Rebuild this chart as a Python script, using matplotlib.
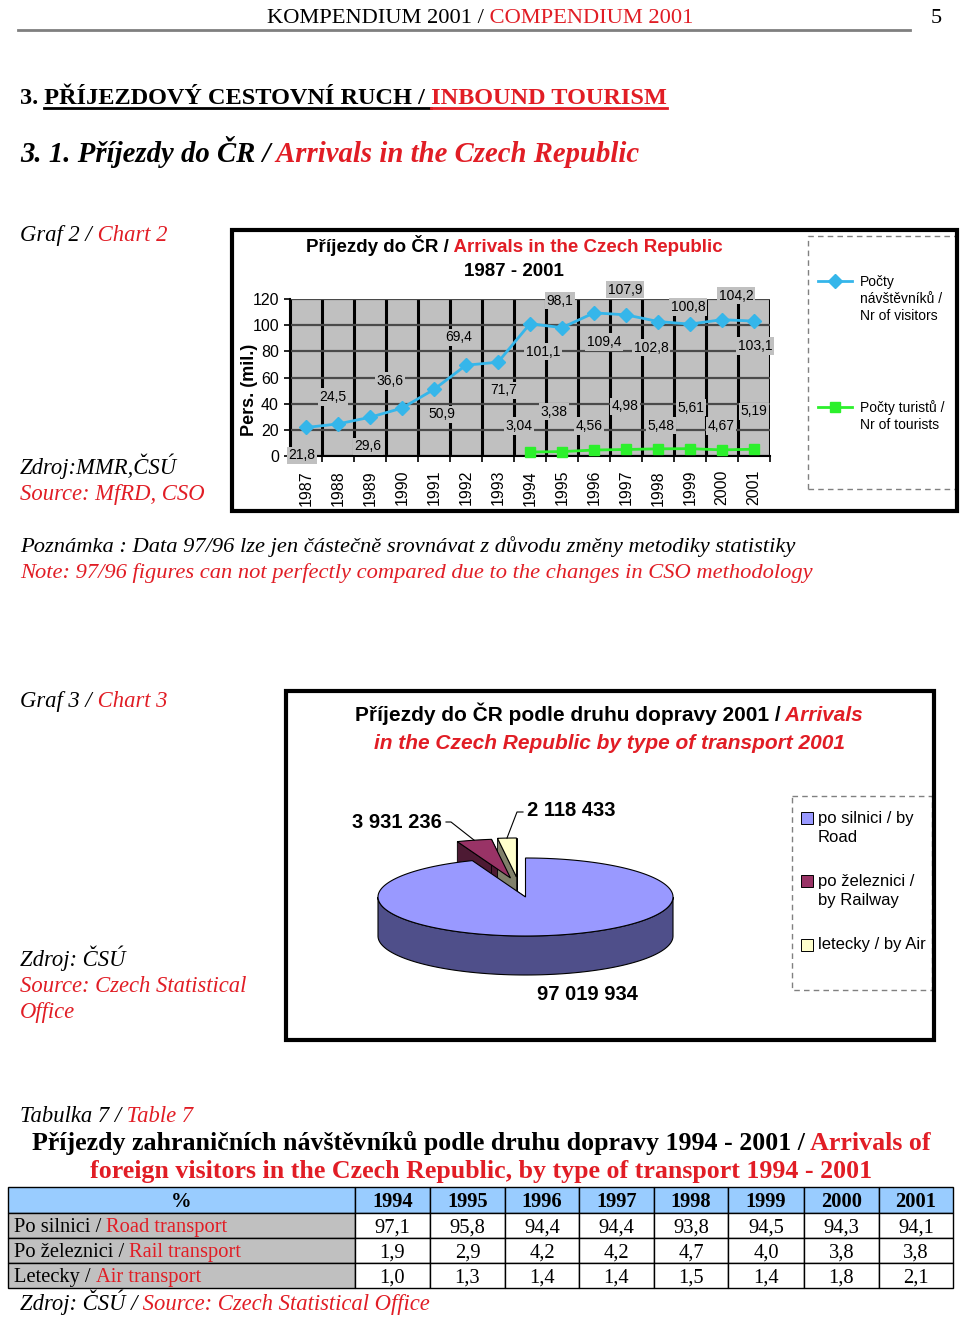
import matplotlib
matplotlib.use("Agg")
import matplotlib.pyplot as plt
from matplotlib.patches import Polygon, Rectangle
import numpy as np

# --- data ---
years = list(range(1987, 2002))
visitors = [21.8, 24.5, 29.6, 36.6, 50.9, 69.4, 71.7, 101.1, 98.1, 109.4, 107.9, 102.8, 100.8, 104.2, 103.1]
tourist_years = list(range(1994, 2002))
tourists = [3.04, 3.38, 4.56, 4.98, 5.48, 5.61, 4.67, 5.19]

transport_names = ["po silnici / by\nRoad", "po železnici /\nby Railway", "letecky / by Air"]
transport_2001 = [97019934, 3931236, 2118433]
transport_labels = ["97 019 934", "3 931 236", "2 118 433"]

table_years = list(range(1994, 2002))
road_share = [97.1, 95.8, 94.4, 94.4, 93.8, 94.5, 94.3, 94.1]
rail_share = [1.9, 2.9, 4.2, 4.2, 4.7, 4.0, 3.8, 3.8]
air_share = [1.0, 1.3, 1.4, 1.4, 1.5, 1.4, 1.8, 2.1]
row_cz = ["Po silnici / ", "Po železnici / ", "Letecky / "]
row_en = ["Road transport", "Rail transport", "Air transport"]

# label offsets (px, right / down) of the data labels, as Excel placed them
vis_off = [(-4, 28), (-5, -27), (-2, 29), (-12, -27), (8, 25), (-7, -28), (6, 28), (13, 28),
           (-2, -27), (10, 29), (-1, -25), (-7, 26), (-2, -17), (14, -24), (1, 25)]
tour_off = [(-11, -26), (-8, -40), (-5, -24), (-1, -43), (3, -23), (1, -41), (-1, -24), (0, -38)]

RED = '#e11d25'
SERIF = 'Liberation Serif'
SANS = 'Liberation Sans'
VIS_COLOR = '#35b6ea'
TOUR_COLOR = '#2cf02c'
SIDE = 16.3  # size of the italic side captions

fig = plt.figure(figsize=(9.6, 13.21), dpi=100)
page = fig.add_axes([0, 0, 1, 1])
page.set_xlim(0, 960)
page.set_ylim(1321, 0)
page.axis('off')


def parts_line(x, y, parts, size, ha='left', family=SERIF, weight='normal', style='normal'):
    # y is the visual middle of the capitals; texts sit on a common baseline
    yb = y + 0.34 * size * 100 / 72
    texts = []
    for p in parts:
        st = p[2] if len(p) > 2 else style
        texts.append(page.text(x, yb, p[0], color=p[1], fontsize=size, family=family,
                               weight=weight, style=st, va='baseline', ha='left'))
    r = fig.canvas.get_renderer()
    w = [t.get_window_extent(r).width for t in texts]
    x0 = x - sum(w) / 2 if ha == 'center' else x
    spans = []
    for t, wi in zip(texts, w):
        t.set_x(x0)
        spans.append((x0, x0 + wi))
        x0 += wi
    return spans


# header
parts_line(480, 15, [("KOMPENDIUM 2001 /", 'black'), (" COMPENDIUM 2001", RED)], 16.2, ha='center')
parts_line(931, 15, [("5", 'black')], 16.2)
page.plot([18, 910], [30, 30], color='#7f7f7f', lw=2)

sp = parts_line(20, 96, [("3.", 'black'), (" PŘÍJEZDOVÝ CESTOVNÍ RUCH /", 'black'), (" INBOUND TOURISM", RED)],
                17.5, weight='bold')
space = 0.25 * 17.5 * 100 / 72
page.plot([sp[1][0] + space, sp[2][0] + space], [108, 108], color='black', lw=2)
page.plot([sp[2][0] + space, sp[2][1]], [108, 108], color=RED, lw=2)

parts_line(20, 152, [("3. 1. Příjezdy do ČR /", 'black'), (" Arrivals in the Czech Republic", RED)],
           20.7, weight='bold', style='italic')

# ---------------- chart 2 ----------------
parts_line(20, 233, [("Graf 2 /", 'black'), (" Chart 2", RED)], SIDE, style='italic')
parts_line(20, 466, [("Zdroj:MMR,ČSÚ", 'black')], SIDE, style='italic')
parts_line(20, 492, [("Source: MfRD, CSO", RED)], SIDE, style='italic')

page.add_patch(Rectangle((232, 230), 725, 281, fill=False, lw=3, ec='black', zorder=6))
parts_line(514, 246, [("Příjezdy do ČR /", 'black'), (" Arrivals in the Czech Republic", RED)],
           13.5, ha='center', family=SANS, weight='bold')
parts_line(514, 270, [("1987 - 2001", 'black')], 13.5, ha='center', family=SANS, weight='bold')
page.text(249, 390, "Pers. (mil.)", fontsize=13, family=SANS, weight='bold', rotation=90,
          ha='center', va='center')

ax = fig.add_axes([290 / 960, 1 - 456 / 1321, 480 / 960, 157 / 1321])
ax.set_facecolor('#c0c0c0')
ax.set_xlim(-0.5, 14.5)
ax.set_ylim(0, 120)
ax.set_yticks(range(0, 121, 20))
ax.set_xticks(range(len(years)))
ax.set_xticklabels([str(y) for y in years], rotation=90, fontsize=11.5, family=SANS, va='top')
ax.set_xticks(np.arange(-0.5, 15, 1), minor=True)
ax.tick_params(axis='x', which='major', length=0, pad=10)
ax.tick_params(axis='x', which='minor', length=4, width=1.2, direction='out')
ax.tick_params(axis='y', length=4, width=1.2, pad=4, labelsize=11.5)
for lbl in ax.get_yticklabels():
    lbl.set_family(SANS)
ax.grid(axis='y', which='major', color='#4a4a4a', lw=1.6)
ax.grid(axis='x', which='minor', color='black', lw=2.2)
ax.set_axisbelow(True)
for s in ['top', 'right']:
    ax.spines[s].set_visible(False)
for s in ['left', 'bottom']:
    ax.spines[s].set_linewidth(1.5)

xv = np.arange(len(years))
ax.plot(xv, visitors, color=VIS_COLOR, lw=2, marker='D', ms=7, zorder=4, clip_on=False)
xt = np.array([years.index(y) for y in tourist_years])
ax.plot(xt, tourists, color=TOUR_COLOR, lw=2, marker='s', ms=7, zorder=4, clip_on=False)

box = dict(boxstyle='square,pad=0.12', fc='#c0c0c0', ec='none')
for x, v, (dx, dy) in zip(xv, visitors, vis_off):
    ax.annotate(f"{v:.1f}".replace('.', ','), (x, v), xytext=(dx * 0.72, -dy * 0.72),
                textcoords='offset points', ha='center', va='center', fontsize=10, family=SANS,
                bbox=box, annotation_clip=False, zorder=5)
for x, v, (dx, dy) in zip(xt, tourists, tour_off):
    ax.annotate(f"{v:.2f}".replace('.', ','), (x, v), xytext=(dx * 0.72, -dy * 0.72),
                textcoords='offset points', ha='center', va='center', fontsize=10, family=SANS,
                bbox=box, annotation_clip=False, zorder=5)

# legend of chart 2
page.plot([808, 808, 955], [489, 236, 236], color='#808080', lw=1, ls=(0, (4, 3)))
page.plot([808, 955], [489, 489], color='#808080', lw=1, ls=(0, (4, 3)))
page.plot([818, 852], [281, 281], color=VIS_COLOR, lw=2)
page.plot([835], [281], marker='D', ms=7, color=VIS_COLOR)
page.text(860, 299, "Počty\nnávštěvníků /\nNr of visitors", fontsize=10, family=SANS,
          va='center', linespacing=1.3)
page.plot([818, 852], [407, 407], color=TOUR_COLOR, lw=2)
page.plot([835], [407], marker='s', ms=7, color=TOUR_COLOR)
page.text(860, 416, "Počty turistů /\nNr of tourists", fontsize=10, family=SANS,
          va='center', linespacing=1.3)

parts_line(20, 544, [("Poznámka : Data 97/96 lze jen částečně srovnávat z důvodu změny metodiky statistiky", 'black')],
           16.2, style='italic')
parts_line(20, 570, [("Note: 97/96 figures can not perfectly compared due to the changes in CSO methodology", RED)],
           16.2, style='italic')

# ---------------- chart 3 ----------------
parts_line(20, 699, [("Graf 3 /", 'black'), (" Chart 3", RED)], SIDE, style='italic')
parts_line(20, 958, [("Zdroj: ČSÚ", 'black')], SIDE, style='italic')
parts_line(20, 984, [("Source: Czech Statistical", RED)], SIDE, style='italic')
parts_line(20, 1010, [("Office", RED)], SIDE, style='italic')

page.add_patch(Rectangle((286, 691), 648, 349, fill=False, lw=3, ec='black', zorder=6))
parts_line(609, 714, [("Příjezdy do ČR podle druhu dopravy 2001 /", 'black', 'normal'), (" Arrivals", RED, 'italic')],
           15, ha='center', family=SANS, weight='bold')
parts_line(610, 742, [("in the Czech Republic by type of transport 2001", RED, 'italic')],
           15, ha='center', family=SANS, weight='bold')

cx, cy, rx, ry, depth = 525.5, 897, 147.5, 39, 39
top_colors = ['#9999ff', '#993366', '#ffffcc']
side_colors = ['#4f4f8a', '#4d1a33', '#80806a']
explode = [(0, 0), (-15, -19), (-9, -20)]
fr = np.array(transport_2001) / sum(transport_2001)
edges = np.concatenate([[0], np.cumsum(fr) * 360])


def rim(a, off, dz=0):
    t = np.radians(a)
    return (cx + off[0] + rx * np.sin(t), cy + off[1] - ry * np.cos(t) + dz)


for i in range(3):
    a0, a1, off = edges[i], edges[i + 1], explode[i]
    c = (cx + off[0], cy + off[1])
    for a in (a0, a1):
        p = rim(a, off)
        page.add_patch(Polygon([c, p, (p[0], p[1] + depth), (c[0], c[1] + depth)], closed=True,
                               fc=side_colors[i], ec='black', lw=0.6, zorder=2))
    lo, hi = max(a0, 90), min(a1, 270)
    if lo < hi:
        ts = np.linspace(lo, hi, 120)
        pts = [rim(t, off) for t in ts] + [rim(t, off, depth) for t in ts[::-1]]
        page.add_patch(Polygon(pts, closed=True, fc=side_colors[i], ec='black', lw=0.8, zorder=2))
for i in range(3):
    a0, a1, off = edges[i], edges[i + 1], explode[i]
    c = (cx + off[0], cy + off[1])
    pts = [c] + [rim(t, off) for t in np.linspace(a0, a1, 300)]
    page.add_patch(Polygon(pts, closed=True, fc=top_colors[i], ec='black', lw=0.8, zorder=3))

lab = dict(fontsize=14.5, family=SANS, weight='bold', va='center')
page.text(587, 995, transport_labels[0], ha='center', **lab)
page.text(442, 822, transport_labels[1], ha='right', **lab)
page.text(527, 811, transport_labels[2], ha='left', **lab)
m1 = rim((edges[1] + edges[2]) / 2, explode[1])
m2 = rim((edges[2] + edges[3]) / 2, explode[2])
page.plot([446, 451, m1[0]], [822, 822, m1[1]], color='black', lw=0.8, zorder=4)
page.plot([523, 517, m2[0]], [812, 812, m2[1]], color='black', lw=0.8, zorder=4)

# pie legend
page.add_patch(Rectangle((792, 796), 140, 194, fill=False, ec='#808080', lw=1, ls=(0, (4, 3))))
for name, col, yy in zip(transport_names, top_colors, [828, 891, 945]):
    first = yy - 10.5 if '\n' in name else yy
    page.plot([807], [first], marker='s', ms=8, mfc=col, mec='black', mew=0.7)
    page.text(818, yy, name, fontsize=12, family=SANS, va='center', linespacing=1.4)

# ---------------- table 7 ----------------
parts_line(20, 1114, [("Tabulka 7 /", 'black'), (" Table 7", RED)], SIDE, style='italic')
parts_line(481, 1141, [("Příjezdy zahraničních návštěvníků podle druhu dopravy 1994 - 2001 /", 'black'),
                       (" Arrivals of", RED)], 18.6, ha='center', weight='bold')
parts_line(481, 1169, [("foreign visitors in the Czech Republic, by type of transport 1994 - 2001", RED)],
           18.6, ha='center', weight='bold')

col_x = [8, 355, 430, 505, 579, 654, 728, 804, 879, 953]
row_y = [1187, 1213, 1238, 1263, 1288]
rows = [road_share, rail_share, air_share]
for r in range(4):
    for c in range(9):
        if r == 0:
            fc = '#99ccff'
        elif c == 0:
            fc = '#c0c0c0'
        else:
            fc = 'white'
        page.add_patch(Rectangle((col_x[c], row_y[r]), col_x[c + 1] - col_x[c], row_y[r + 1] - row_y[r],
                                 fc=fc, ec='black', lw=1))
hy = (row_y[0] + row_y[1]) / 2
parts_line((col_x[0] + col_x[1]) / 2, hy, [("%", 'black')], 14.8, ha='center', weight='bold')
for c, yr in enumerate(table_years):
    parts_line((col_x[c + 1] + col_x[c + 2]) / 2, hy, [(str(yr), 'black')], 14.8, ha='center', weight='bold')
for r, vals in enumerate(rows):
    yy = (row_y[r + 1] + row_y[r + 2]) / 2
    parts_line(14, yy, [(row_cz[r], 'black'), (row_en[r], RED)], 14.8)
    for c, v in enumerate(vals):
        parts_line((col_x[c + 1] + col_x[c + 2]) / 2, yy, [(f"{v:.1f}".replace('.', ','), 'black')],
                   14.8, ha='center')
parts_line(20, 1302, [("Zdroj: ČSÚ /", 'black'), (" Source: Czech Statistical Office", RED)], SIDE, style='italic')

fig.savefig("out.png", dpi=100)
